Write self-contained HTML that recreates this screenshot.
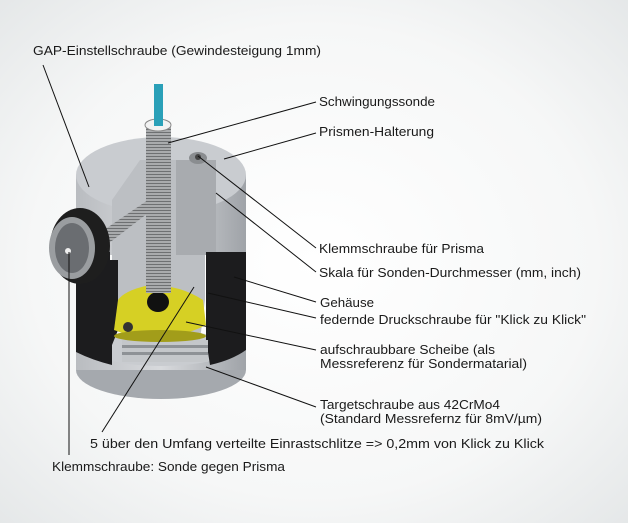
<!DOCTYPE html>
<html><head><meta charset="utf-8"><style>
html,body{margin:0;padding:0;width:628px;height:523px;overflow:hidden}
svg{display:block}
text{font-family:"Liberation Sans",sans-serif;font-size:13px;fill:#1a1a1a}
</style></head><body>
<svg width="628" height="523" viewBox="0 0 628 523" xmlns="http://www.w3.org/2000/svg">
<defs>
<radialGradient id="bg" cx="0.5" cy="0.5" r="0.75">
<stop offset="0" stop-color="#ffffff"/><stop offset="0.6" stop-color="#f6f7f7"/><stop offset="1" stop-color="#e2e5e6"/>
</radialGradient>
<linearGradient id="cyl" x1="0" x2="1"><stop offset="0" stop-color="#b9bcc0"/><stop offset="0.5" stop-color="#d8dadd"/><stop offset="1" stop-color="#9fa3a8"/></linearGradient>
<pattern id="thr" width="6" height="3" patternUnits="userSpaceOnUse"><rect width="6" height="3" fill="#a9abad"/><rect width="6" height="1" fill="#6e7072"/></pattern>
</defs>
<rect width="628" height="523" fill="url(#bg)"/>
<!-- bottom ring -->
<ellipse cx="161" cy="370" rx="85" ry="29" fill="#a5a9ae"/>
<rect x="76" y="340" width="170" height="30" fill="url(#cyl)"/>
<ellipse cx="161" cy="348" rx="70" ry="18" fill="#c9ccd0"/>
<!-- upper gray body -->
<rect x="76" y="175" width="170" height="80" fill="url(#cyl)"/>
<ellipse cx="161" cy="175" rx="85" ry="38" fill="#c9ccd0"/>
<!-- cutaway interior -->
<polygon points="112,200 140,160 185,160 215,185 215,255 205,255 205,300 200,340 125,340 118,300 118,260 112,260" fill="#bcbfc3"/>
<rect x="176" y="160" width="40" height="95" fill="#a8abaf"/>
<!-- black housing sides -->
<path d="M76,252 L110,252 L110,260 L118,260 L118,330 L112,345 L112,365 Q92,360 76,352 Z" fill="#1c1c1e"/>
<path d="M246,252 L206,252 L206,340 L210,365 Q232,360 246,350 Z" fill="#1c1c1e"/>
<rect x="122" y="340" width="86" height="22" fill="#c4c7ca"/>
<rect x="122" y="345" width="86" height="3" fill="#8e9296"/>
<rect x="122" y="352" width="86" height="3" fill="#8e9296"/>
<!-- yellow disk -->
<path d="M114,330 Q160,348 206,325 L203,300 Q180,285 150,285 Q125,290 118,300 Z" fill="#d6d024"/>
<ellipse cx="160" cy="336" rx="46" ry="6" fill="#a29d1a"/>
<ellipse cx="158" cy="302" rx="11" ry="10" fill="#111"/>
<circle cx="128" cy="327" r="5" fill="#333"/>
<!-- probe rod -->
<rect x="146" y="125" width="25" height="168" fill="url(#thr)"/>
<ellipse cx="158" cy="125" rx="13" ry="6" fill="#f2f2f2" stroke="#888"/>
<rect x="154" y="84" width="9" height="42" fill="#2aa0b8"/>
<!-- clamp screw for prism -->
<ellipse cx="198" cy="158" rx="9" ry="6" fill="#8a8d90"/>
<circle cx="198" cy="157" r="3" fill="#444"/>
<!-- side screw + knob -->
<polygon points="95,236 148,200 152,210 100,250" fill="url(#thr)"/>
<ellipse cx="80" cy="246" rx="30" ry="38" fill="#1e1e1e"/>
<ellipse cx="72" cy="248" rx="23" ry="31" fill="#9a9da0"/>
<ellipse cx="72" cy="248" rx="17" ry="25" fill="#6a6d71"/>
<circle cx="68" cy="251" r="3" fill="#eee"/>
<!-- leader lines -->
<g stroke="#111" stroke-width="1" fill="none">
<line x1="43" y1="65" x2="89" y2="187"/>
<line x1="316" y1="102" x2="168" y2="143"/>
<line x1="316" y1="133" x2="224" y2="159"/>
<line x1="316" y1="248" x2="198" y2="156"/>
<line x1="316" y1="272" x2="216" y2="193"/>
<line x1="316" y1="302" x2="234" y2="277"/>
<line x1="316" y1="318" x2="208" y2="293"/>
<line x1="316" y1="350" x2="186" y2="322"/>
<line x1="316" y1="407" x2="206" y2="367"/>
<line x1="102" y1="432" x2="194" y2="287"/>
<line x1="69" y1="455" x2="69" y2="252"/>
</g>
<!-- labels -->
<text x="33" y="55" textLength="288" lengthAdjust="spacingAndGlyphs">GAP-Einstellschraube (Gewindesteigung 1mm)</text>
<text x="319" y="106" textLength="116" lengthAdjust="spacingAndGlyphs">Schwingungssonde</text>
<text x="319" y="136" textLength="115" lengthAdjust="spacingAndGlyphs">Prismen-Halterung</text>
<text x="319" y="253" textLength="165" lengthAdjust="spacingAndGlyphs">Klemmschraube für Prisma</text>
<text x="319" y="277" textLength="262" lengthAdjust="spacingAndGlyphs">Skala für Sonden-Durchmesser (mm, inch)</text>
<text x="320" y="307" textLength="54" lengthAdjust="spacingAndGlyphs">Gehäuse</text>
<text x="320" y="324" textLength="266" lengthAdjust="spacingAndGlyphs">federnde Druckschraube für "Klick zu Klick"</text>
<text x="320" y="354" textLength="175" lengthAdjust="spacingAndGlyphs">aufschraubbare Scheibe (als</text>
<text x="320" y="368" textLength="207" lengthAdjust="spacingAndGlyphs">Messreferenz für Sondermatarial)</text>
<text x="320" y="409" textLength="180" lengthAdjust="spacingAndGlyphs">Targetschraube aus 42CrMo4</text>
<text x="320" y="423" textLength="222" lengthAdjust="spacingAndGlyphs">(Standard Messrefernz für 8mV/µm)</text>
<text x="90" y="448" textLength="454" lengthAdjust="spacingAndGlyphs">5 über den Umfang verteilte Einrastschlitze =&gt; 0,2mm von Klick zu Klick</text>
<text x="52" y="471" textLength="233" lengthAdjust="spacingAndGlyphs">Klemmschraube: Sonde gegen Prisma</text>
</svg>
</body></html>
